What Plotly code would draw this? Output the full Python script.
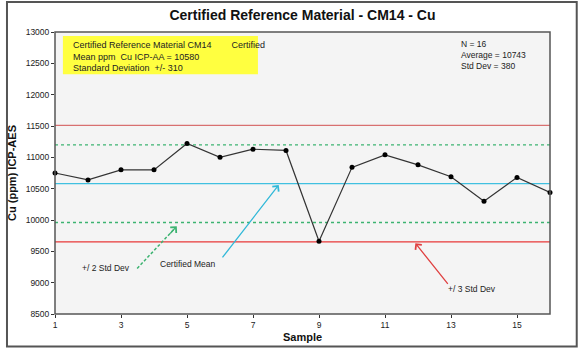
import plotly.graph_objects as go

samples = list(range(1, 17))
cu_values = [10750, 10640, 10800, 10800, 11220, 11000, 11130, 11110,
             9660, 10840, 11040, 10880, 10690, 10300, 10680, 10440]
cert_mean = 10580
cert_sd = 310
y_ticks = [8500, 9000, 9500, 10000, 10500, 11000, 11500, 12000, 12500, 13000]
y_tick_labels = [str(v) for v in y_ticks]
x_ticks = [1, 3, 5, 7, 9, 11, 13, 15]

FONT = "Liberation Sans"
W, H = 578, 354
L, R, T, B = 50, 28, 32, 35
PW, PH = W - L - R, H - T - B

def px(xp):
    return (xp - L) / PW

def py(yp):
    return (H - B - yp) / PH

fig = go.Figure()
fig.add_trace(go.Scatter(x=samples, y=cu_values, mode="lines+markers",
                         line=dict(color="#333333", width=1.2),
                         marker=dict(color="black", size=5),
                         showlegend=False, cliponaxis=False))

shapes = []
for v, c, d in [(cert_mean + 3 * cert_sd, "#d87070", "solid"),
                (cert_mean - 3 * cert_sd, "#e83838", "solid"),
                (cert_mean + 2 * cert_sd, "#3cb371", "3px,3px"),
                (cert_mean - 2 * cert_sd, "#3cb371", "3px,3px"),
                (cert_mean, "#40c0e0", "solid")]:
    shapes.append(dict(type="line", xref="paper", yref="y", x0=0, x1=1, y0=v, y1=v,
                       layer="below", line=dict(color=c, width=1.3, dash=d)))
# green dashed arrow shaft
shapes.append(dict(type="line", xref="x", yref="y", x0=3.49, y0=9227, x1=4.62, y1=9860,
                   line=dict(color="#3cb371", width=1.5, dash="3px,2px")))
# plot border
shapes.append(dict(type="rect", xref="paper", yref="paper", x0=0, x1=1, y0=0, y1=1,
                   line=dict(color="#555555", width=1.5)))
# outer frame
shapes.append(dict(type="rect", xref="paper", yref="paper",
                   x0=px(1.5), x1=px(577), y0=py(352), y1=py(1.5),
                   line=dict(color="#555555", width=2)))
# yellow box
shapes.append(dict(type="rect", xref="paper", yref="paper",
                   x0=px(58), x1=px(255), y0=py(75), y1=py(36),
                   fillcolor="#ffff40", line=dict(width=0), layer="above"))

annotations = [
    dict(text="Certified Reference Material CM14&nbsp;&nbsp;&nbsp;&nbsp;&nbsp;&nbsp;&nbsp;&nbsp;Certified<br>Mean ppm&nbsp;&nbsp;Cu ICP-AA = 10580<br>Standard Deviation&nbsp;&nbsp;+/- 310",
         xref="paper", yref="paper", x=px(66), y=py(38), xanchor="left", yanchor="top",
         align="left", showarrow=False, font=dict(family=FONT, size=9, color="#222")),
    dict(text="N = 16<br>Average = 10743<br>Std Dev = 380",
         xref="paper", yref="paper", x=px(458), y=py(37), xanchor="left", yanchor="top",
         align="left", showarrow=False, font=dict(family=FONT, size=8.5, color="#222")),
    # green arrowhead
    dict(x=4.69, y=9900, ax=4.45, ay=9760, xref="x", yref="y", axref="x", ayref="y",
         text="", showarrow=True, arrowhead=4, arrowsize=1.2, arrowwidth=1.3,
         arrowcolor="#3cb371"),
    dict(x=7.78, y=10560, ax=6.04, ay=9379, xref="x", yref="y", axref="x", ayref="y",
         text="", showarrow=True, arrowhead=4, arrowsize=1.2, arrowwidth=1.3,
         arrowcolor="#30b8d8"),
    dict(x=11.92, y=9630, ax=12.94, ay=8956, xref="x", yref="y", axref="x", ayref="y",
         text="", showarrow=True, arrowhead=4, arrowsize=1.2, arrowwidth=1.3,
         arrowcolor="#e04040"),
    dict(text="+/ 2 Std Dev", x=2.56, y=9227, xref="x", yref="y", showarrow=False,
         font=dict(family=FONT, size=8.5, color="#222")),
    dict(text="Certified Mean", x=5.02, y=9300, xref="x", yref="y", showarrow=False,
         font=dict(family=FONT, size=8.5, color="#222")),
    dict(text="+/ 3 Std Dev", x=13.63, y=8893, xref="x", yref="y", showarrow=False,
         font=dict(family=FONT, size=8.5, color="#222")),
]

fig.update_layout(
    width=W, height=H,
    margin=dict(l=L, r=R, t=T, b=B),
    paper_bgcolor="white", plot_bgcolor="#f4f4f4",
    title=dict(text="<b>Certified Reference Material - CM14 - Cu</b>", x=0.5, xanchor="center",
               xref="paper", y=1 - 15 / H, yanchor="middle",
               font=dict(family=FONT, size=14, color="#111")),
    shapes=shapes, annotations=annotations,
    xaxis=dict(range=[1, 16], tickvals=x_ticks, ticks="outside", ticklen=3,
               tickcolor="#333", showgrid=False, zeroline=False, showline=False,
               tickfont=dict(family=FONT, size=8.5, color="#222"),
               title=dict(text="<b>Sample</b>", standoff=4,
                          font=dict(family=FONT, size=11, color="#111"))),
    yaxis=dict(range=[8500, 13000], tickvals=y_ticks, ticktext=y_tick_labels,
               ticks="outside", ticklen=3,
               tickcolor="#333", showgrid=False, zeroline=False, showline=False,
               tickfont=dict(family=FONT, size=8.5, color="#222"),
               title=dict(text="<b>Cu (ppm) ICP-AES</b>", standoff=6,
                          font=dict(family=FONT, size=11, color="#111"))),
)

fig.write_html("out.html")
